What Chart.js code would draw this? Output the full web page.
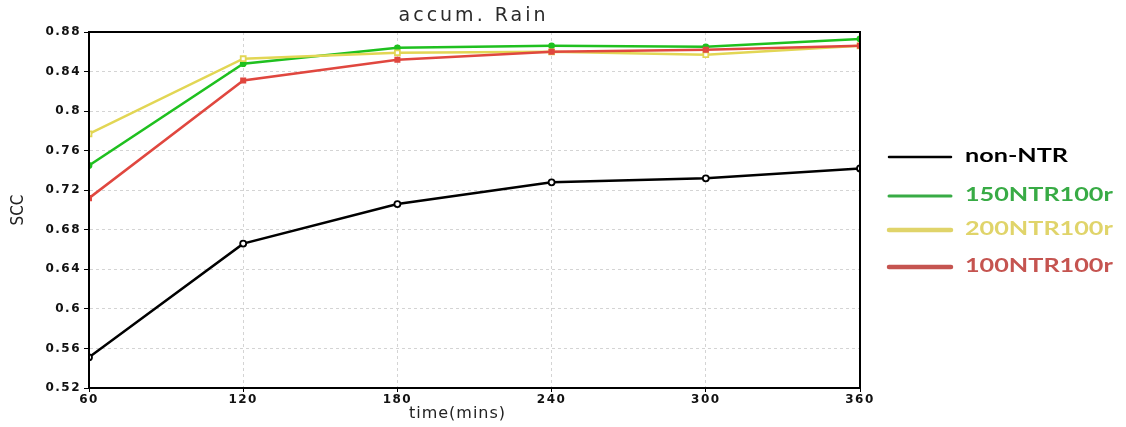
<!DOCTYPE html>
<html>
<head>
<meta charset="utf-8">
<script src="https://cdn.jsdelivr.net/npm/chart.js@4.4.1/dist/chart.umd.min.js"></script>
<style>
  html, body { margin: 0; padding: 0; background: #fff; }
  #wrap { width: 1126px; height: 427px; position: relative; }
</style>
</head>
<body>
<div id="wrap"><canvas id="c" width="1126" height="427"></canvas></div>
<script>
// Forecast lead times (minutes)
const times = [60, 120, 180, 240, 300, 360];
const xTicks = [60, 120, 180, 240, 300, 360];
const yTicks = [0.52, 0.56, 0.6, 0.64, 0.68, 0.72, 0.76, 0.8, 0.84, 0.88];

// Spatial correlation coefficient of accumulated rain per experiment
const nonNTR      = [0.551, 0.666, 0.706, 0.728, 0.732, 0.742];
const ntr150r100  = [0.745, 0.848, 0.864, 0.866, 0.865, 0.873];
const ntr200r100  = [0.777, 0.853, 0.859, 0.860, 0.857, 0.866];
const ntr100r100  = [0.712, 0.831, 0.852, 0.860, 0.862, 0.866];

const seriesLabels = ['non-NTR', '150NTR100r', '200NTR100r', '100NTR100r'];
const seriesValues = [nonNTR, ntr150r100, ntr200r100, ntr100r100];
const lineColors   = ['#000000', '#1fc01f', '#e2d654', '#e0473f'];
const legendColors = ['#000000', '#38ab45', '#e0d46a', '#c55450'];
const legendWidths = [2.5, 3, 4.5, 4.5];
const pointStyles  = ['circle', 'circle', 'rect', 'rect'];
const pointFills   = ['#ffffff', '#1fc01f', '#ffffff', '#e0473f'];
const pointRadii   = [3, 2.5, 3.5, 3];

const datasets = seriesValues.map((vals, i) => ({
  label: seriesLabels[i],
  data: vals.map((v, j) => ({ x: times[j], y: v })),
  borderColor: lineColors[i],
  backgroundColor: pointFills[i],
  borderWidth: 2.5,
  pointStyle: pointStyles[i],
  pointRadius: pointRadii[i],
  pointBorderWidth: 1.8,
  pointBorderColor: lineColors[i],
  tension: 0
})).reverse();

const hasSpacing = 'letterSpacing' in CanvasRenderingContext2D.prototype;

// Wide tick lettering while the axes are drawn
const tickSpacing = {
  id: 'tickSpacing',
  beforeDraw(chart) { if (hasSpacing) chart.ctx.letterSpacing = '1.5px'; },
  beforeDatasetsDraw(chart) { if (hasSpacing) chart.ctx.letterSpacing = '0px'; }
};

// Frame, title, axis captions and the side legend
const decorations = {
  id: 'decorations',
  afterDraw(chart) {
    const { ctx, chartArea: a } = chart;
    ctx.save();
    ctx.strokeStyle = '#000';
    ctx.lineWidth = 2;
    ctx.strokeRect(a.left, a.top, a.right - a.left, a.bottom - a.top);

    ctx.fillStyle = '#2a2a2a';
    ctx.textAlign = 'center';
    ctx.textBaseline = 'middle';
    ctx.font = '19px "DejaVu Sans"';
    if (hasSpacing) ctx.letterSpacing = '3px';
    ctx.fillText('accum. Rain', (a.left + a.right) / 2 - 1, 16);
    if (hasSpacing) ctx.letterSpacing = '1px';

    ctx.fillStyle = '#222';
    ctx.font = '16px "DejaVu Sans"';
    ctx.fillText('time(mins)', (a.left + a.right) / 2 - 17, a.bottom + 26);
    if (hasSpacing) ctx.letterSpacing = '0px';

    ctx.save();
    ctx.translate(19, (a.top + a.bottom) / 2);
    ctx.rotate(-Math.PI / 2);
    ctx.font = '17px "DejaVu Sans Condensed", "DejaVu Sans"';
    ctx.fillText('SCC', 0, 0);
    ctx.restore();

    const rows = [157, 196, 230, 267];
    seriesLabels.forEach((lab, i) => {
      ctx.strokeStyle = legendColors[i];
      ctx.lineWidth = legendWidths[i];
      ctx.lineCap = 'round';
      ctx.beginPath();
      ctx.moveTo(889, rows[i]);
      ctx.lineTo(951, rows[i]);
      ctx.stroke();
      ctx.save();
      ctx.translate(965, rows[i] - 1);
      ctx.scale(1.4, 1);
      ctx.textAlign = 'left';
      ctx.font = 'bold 18px Lato';
      ctx.fillStyle = legendColors[i];
      ctx.fillText(lab, 0, 0);
      ctx.restore();
    });
    ctx.restore();
  }
};

const tickFont = { family: 'DejaVu Sans', weight: 'bold', size: 12 };

new Chart(document.getElementById('c'), {
  type: 'line',
  data: { datasets },
  options: {
    responsive: false,
    animation: false,
    layout: { padding: { top: 32, right: 266, left: 0, bottom: 0 } },
    plugins: { legend: { display: false }, title: { display: false }, tooltip: { enabled: false } },
    scales: {
      x: {
        type: 'linear',
        min: 60, max: 360,
        afterFit(s) { s.height = 39; },
        afterBuildTicks(s) { s.ticks = xTicks.map(v => ({ value: v })); },
        grid: { color: '#d4d4d4', lineWidth: 1, tickLength: 4, tickColor: '#000', tickBorderDash: [] },
        border: { display: true, color: '#000', width: 2, dash: [3, 3] },
        ticks: { color: '#111', font: tickFont, padding: 1, maxRotation: 0 }
      },
      y: {
        min: 0.52, max: 0.88,
        afterFit(s) { s.width = 89; },
        afterBuildTicks(s) { s.ticks = yTicks.map(v => ({ value: v })); },
        grid: { color: '#d4d4d4', lineWidth: 1, tickLength: 5, tickColor: '#000', tickBorderDash: [] },
        border: { display: true, color: '#000', width: 2, dash: [3, 3] },
        ticks: {
          color: '#111', font: tickFont, padding: 3,
          callback: v => String(Number(v.toFixed(2)))
        }
      }
    }
  },
  plugins: [tickSpacing, decorations]
});
</script>
</body>
</html>
